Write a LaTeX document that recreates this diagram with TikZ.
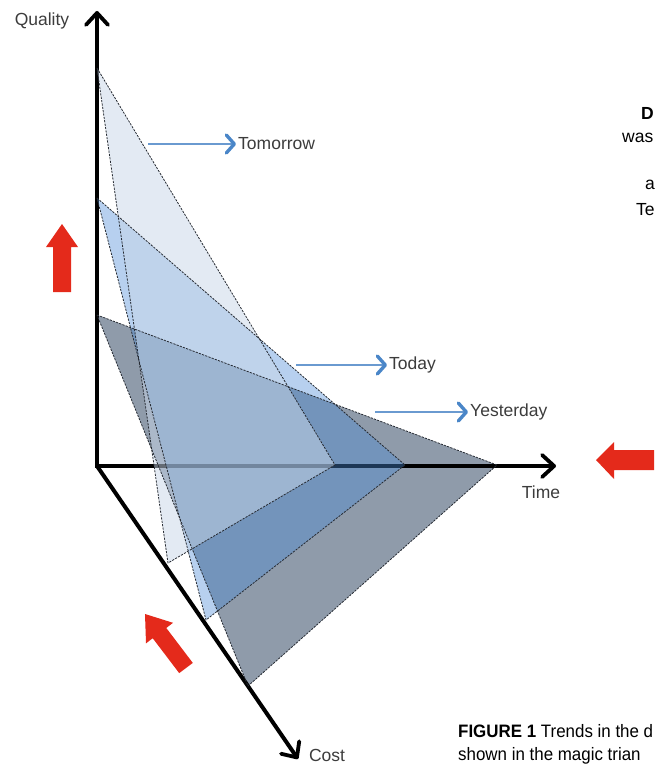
\documentclass[tikz,border=0pt]{standalone}
\usepackage{fontspec}
\setmainfont{Liberation Sans}
\newfontfamily\capfont[FakeStretch=0.94]{Liberation Sans}
\usetikzlibrary{arrows.meta}
\definecolor{gryfill}{HTML}{8F9BAA}
\definecolor{todfill}{HTML}{4A8AD6}
\definecolor{tomfill}{HTML}{C8D6E8}
\definecolor{edgecol}{HTML}{262B33}
\definecolor{bluearr}{HTML}{6A9AD0}
\definecolor{bluehead}{HTML}{4A86C8}
\definecolor{redarr}{HTML}{E42A1B}
\definecolor{txtcol}{HTML}{3C3C3C}
\tikzset{
  axisline/.style={line width=4pt, black, -{Straight Barb[length=12pt,width=22pt,line width=3.8pt,round]}},
  triedge/.style={draw=edgecol, line width=0.8pt, dash pattern=on 2.2pt off 1.2pt, line join=round},
  bluelink/.style={bluearr, line width=1.6pt, shorten >=2pt, -{Straight Barb[length=8pt,width=18pt,line width=3.4pt,round,color=bluehead]}},
  lbl/.style={font=\fontsize{17.5}{20}\selectfont, text=txtcol, inner sep=0pt},
  frag/.style={font=\fontsize{17.5}{20}\selectfont, text=black, inner sep=0pt, anchor=west},
  redshape/.style={fill=redarr, draw=none}
}
\begin{document}
\begin{tikzpicture}[x=1pt,y=-1pt]
\useasboundingbox (0,0) rectangle (654,765);
\begin{scope}
\clip (0,0) rectangle (654,765);
% coordinates
\coordinate (O) at (97,466);
\coordinate (Qtip) at (97,11);
\coordinate (Ttip) at (556,466);
\coordinate (Ctip) at (298,759);
\coordinate (yq) at (97,315);
\coordinate (yt) at (497,465);
\coordinate (yc) at (248,686);
\coordinate (dq) at (97,198);
\coordinate (dt) at (405,465);
\coordinate (dc) at (206,620);
\coordinate (mq) at (97,68);
\coordinate (mt) at (335,465);
\coordinate (mc) at (168,563);
% yesterday (opaque)
\fill[gryfill] (yq) -- (yt) -- (yc) -- cycle;
% axes
\draw[axisline] (O) -- (Qtip);
\draw[axisline] ([xshift=-2pt]O) -- (Ttip);
\draw[axisline] (O) -- (Ctip);
% today and tomorrow (transparent)
\fill[todfill, fill opacity=0.4] (dq) -- (dt) -- (dc) -- cycle;
\fill[tomfill, fill opacity=0.5] (mq) -- (mt) -- (mc) -- cycle;
% edges
\draw[triedge] (yq) -- (yt) -- (yc) -- cycle;
\draw[triedge] (dq) -- (dt) -- (dc) -- cycle;
\draw[triedge] (mq) -- (mt) -- (mc) -- cycle;
% labels
\node[lbl] (qual) at (42,21) {Quality};
\node[lbl] (time) at (541,492) {Time};
\node[lbl] (cost) at (327,755) {Cost};
\node[lbl, anchor=west] (tom) at (238,144) {Tomorrow};
\node[lbl, anchor=west] (tod) at (389,365) {Today};
\node[lbl, anchor=west] (yes) at (470,412) {Yesterday};
\coordinate (tomS) at (148,144);
\coordinate (todS) at (296,365);
\coordinate (yesS) at (375,412);
\draw[bluelink] (tomS) -- (tom.west);
\draw[bluelink] (todS) -- (tod.west);
\draw[bluelink] (yesS) -- (yes.west);
% red arrows
\fill[redshape] (53,292) -- (53,247) -- (46,247) -- (62,224) -- (78,247) -- (71,247) -- (71,292) -- cycle;
\fill[redshape] (655,450) -- (614,450) -- (614,442) -- (596,460) -- (614,479) -- (614,470) -- (655,470) -- cycle;
\fill[redshape] (192.8,662.9) -- (166.3,628.0) -- (173.0,622.8) -- (145,614) -- (146.0,643.4) -- (152.7,638.2) -- (179.2,673.1) -- cycle;
% text fragments at the right edge
\node[frag, font=\fontsize{17.5}{20}\selectfont\bfseries] (fd) at (641,113) {D};
\node[frag] (fwas) at (622,138) {was};
\node[frag] (fa) at (645,185) {a};
\node[frag] (fte) at (636,210) {Te};
% caption
\node[inner sep=0pt, anchor=base west, font=\capfont\fontsize{18}{21}\selectfont] (cap1) at (458,737) {\textbf{FIGURE 1} Trends in the d};
\node[inner sep=0pt, anchor=base west, font=\capfont\fontsize{18}{21}\selectfont] (cap2) at (458,760) {shown in the magic trian};
\end{scope}
\end{tikzpicture}
\end{document}
